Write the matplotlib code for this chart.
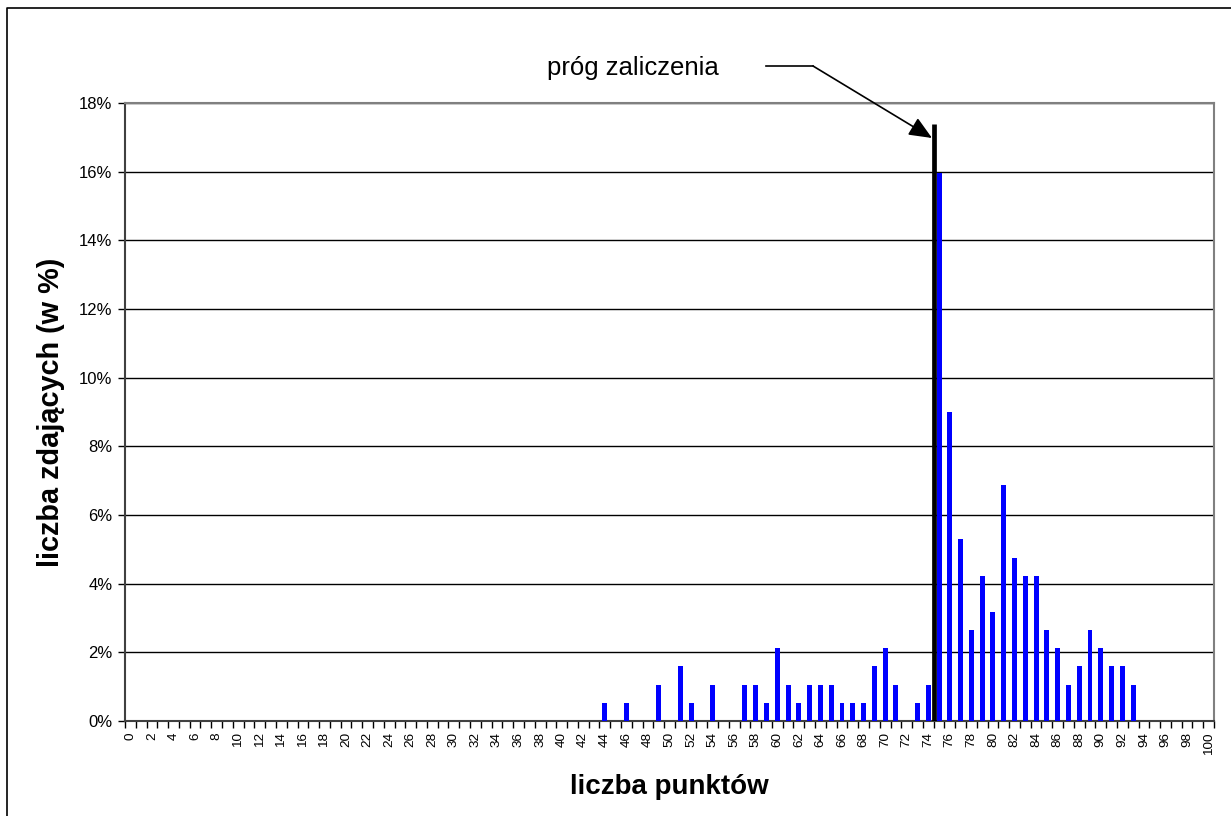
import matplotlib.pyplot as plt
from matplotlib.lines import Line2D

plt.rcParams['font.family'] = ['Liberation Sans', 'DejaVu Sans']

# score categories 0..100 and share of students (in %)
scores = list(range(0, 101))
score_with_share = [44, 46, 49, 51, 52, 54, 57, 58, 59, 60, 61, 62, 63, 64, 65,
                    66, 67, 68, 69, 70, 71, 73, 74, 75, 76, 77, 78, 79, 80, 81,
                    82, 83, 84, 85, 86, 87, 88, 89, 90, 91, 92, 93]
share_pct = [0.53, 0.53, 1.06, 1.59, 0.53, 1.06, 1.06, 1.06, 0.53, 2.12, 1.06,
             0.53, 1.06, 1.06, 1.06, 0.53, 0.53, 0.53, 1.59, 2.12, 1.06, 0.53,
             1.06, 15.97, 8.99, 5.29, 2.65, 4.23, 3.17, 6.88, 4.76, 4.23, 4.23,
             2.65, 2.12, 1.06, 1.59, 2.65, 2.12, 1.59, 1.59, 1.06]
threshold = 75
threshold_top = 17.4
y_ticks = [0, 2, 4, 6, 8, 10, 12, 14, 16, 18]

values = [0.0] * len(scores)
for s, v in zip(score_with_share, share_pct):
    values[s] = v

fig = plt.figure(figsize=(12.31, 8.16), dpi=100)
ax = fig.add_axes([125 / 1231, 95 / 816, 1089 / 1231, 618 / 816])

ax.bar(scores, values, width=0.46, color='#0000ff', zorder=3)
ax.set_xlim(-0.5, 100.5)
ax.set_ylim(0, 18)

# grid
ax.set_yticks(y_ticks)
ax.set_yticklabels([f"{t}%" for t in y_ticks], fontsize=12)
ax.yaxis.grid(True, color='black', linewidth=1, zorder=0)
ax.tick_params(axis='y', direction='out', length=5, width=1, pad=4)

# x ticks at category borders, labels every second category
ax.set_xticks([x - 0.5 for x in range(0, 102)])
ax.set_xticklabels([])
ax.tick_params(axis='x', which='major', direction='out', length=5, width=1)
ax.set_xticks(scores[::2], minor=True)
ax.set_xticklabels([str(s) for s in scores[::2]], minor=True, rotation=90,
                   fontsize=9.7)
ax.tick_params(axis='x', which='minor', length=0, pad=8)

for side in ['top', 'right']:
    ax.spines[side].set_color('#808080')
    ax.spines[side].set_linewidth(1.5)
for side in ['left', 'bottom']:
    ax.spines[side].set_color('#404040')
    ax.spines[side].set_linewidth(1.5)

# pass threshold line
ax.plot([threshold - 0.45, threshold - 0.45], [0, threshold_top],
        color='black', linewidth=3.4, zorder=4, solid_capstyle='butt')

ax.set_xlabel('liczba punktów', fontsize=20, fontweight='bold', labelpad=14)
ax.set_ylabel('liczba zdających (w %)', fontsize=20.8, fontweight='bold',
              labelpad=10)

# annotation
fig.text(633 / 1231, 1 - 68 / 816, 'próg zaliczenia', fontsize=18.5,
         ha='center', va='center')
fig.add_artist(Line2D([766 / 1231, 813 / 1231], [1 - 66 / 816, 1 - 66 / 816],
                      color='black', linewidth=1.2))
ax.annotate('', xy=(932, 816 - 138), xycoords='figure pixels',
            xytext=(813, 816 - 66), textcoords='figure pixels',
            arrowprops=dict(arrowstyle='-|>,head_length=1.4,head_width=0.6',
                            color='black', linewidth=1.2, shrinkA=0, shrinkB=0))

# outer frame (only top and left edges visible)
fig.add_artist(Line2D([7 / 1231, 7 / 1231, 1], [0, 1 - 7.5 / 816, 1 - 7.5 / 816],
                      color='black', linewidth=1.2))

fig.savefig('out.png', dpi=100)
